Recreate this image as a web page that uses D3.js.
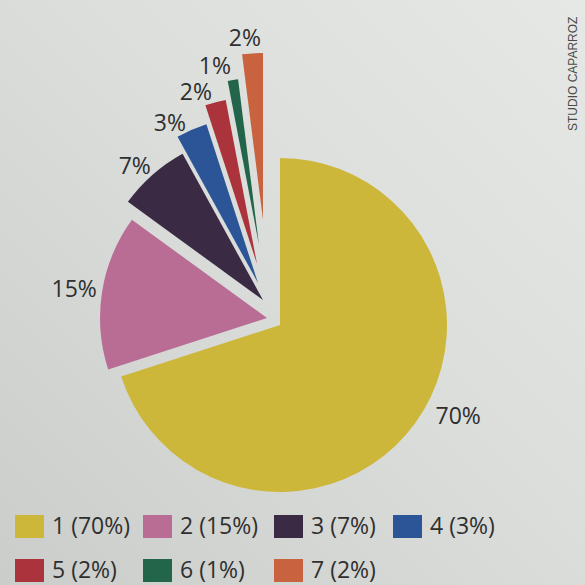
<!DOCTYPE html>
<html>
<head>
<meta charset="utf-8">
<script src="https://cdn.jsdelivr.net/npm/d3@7"></script>
<style>
  html, body { margin: 0; padding: 0; background: #dcdedc; }
  svg { display: block; }
</style>
</head>
<body>
<svg id="chart" width="585" height="585"></svg>
<script>
// ---- data ----
const categories = ["1", "2", "3", "4", "5", "6", "7"];
const values = [70, 15, 7, 3, 2, 1, 2];
const colors = ["#cdb73a", "#b96c94", "#3a2a44", "#2c5597", "#ab333c", "#22654a", "#c9623f"];

// ---- layout (not data) ----
const W = 585, H = 585;
const center = [280, 325];
const radius = 167;
// exploded displacement of each slice [dx, dy]
const sliceShift = [[0, 0], [-13, -7], [-17, -25], [-22, -42], [-23, -61], [-21, -80], [-17, -105]];
// label placement relative to each slice's apex: [angle in degrees clockwise from top, distance]
const labelPolar = [[117, 200], [278.6, 195], [316.4, 186], [331.2, 183], [340.5, 183], [346.2, 185], [354.3, 183]];

const svg = d3.select("#chart");

// background with slight photographic shading
const defs = svg.append("defs");
const grad = defs.append("linearGradient").attr("id", "bg")
  .attr("x1", "0").attr("y1", "1").attr("x2", "1").attr("y2", "0");
grad.append("stop").attr("offset", "0%").attr("stop-color", "#cbcdca");
grad.append("stop").attr("offset", "55%").attr("stop-color", "#dcdedc");
grad.append("stop").attr("offset", "100%").attr("stop-color", "#e6e8e6");
svg.append("rect").attr("width", W).attr("height", H).attr("fill", "url(#bg)");

const pie = d3.pie().sort(null).value(d => d).startAngle(0).endAngle(2 * Math.PI);
const arcs = pie(values);
const arc = d3.arc().innerRadius(0).outerRadius(radius);

const g = svg.append("g").attr("transform", `translate(${center[0]},${center[1]})`);

g.selectAll("path.slice")
  .data(arcs)
  .join("path")
  .attr("class", "slice")
  .attr("transform", (d, i) => `translate(${sliceShift[i][0]},${sliceShift[i][1]})`)
  .attr("d", arc)
  .attr("fill", (d, i) => colors[i]);

const fontFam = "'Open Sans', 'Noto Sans', sans-serif";

g.selectAll("text.lbl")
  .data(arcs)
  .join("text")
  .attr("class", "lbl")
  .attr("x", (d, i) => sliceShift[i][0] + Math.sin(labelPolar[i][0] * Math.PI / 180) * labelPolar[i][1])
  .attr("y", (d, i) => sliceShift[i][1] - Math.cos(labelPolar[i][0] * Math.PI / 180) * labelPolar[i][1])
  .attr("text-anchor", "middle")
  .attr("dy", "0.36em")
  .attr("font-family", fontFam)
  .attr("font-size", 23)
  .attr("fill", "#2f2f2f")
  .text(d => d.data + "%");

// legend
const legendCols = [15, 143, 274, 393];
const legendRows = [526, 570];
const perRow = 4;
const leg = svg.append("g");
categories.forEach((c, i) => {
  const col = i % perRow, row = Math.floor(i / perRow);
  const x = legendCols[col], y = legendRows[row];
  leg.append("rect")
    .attr("x", x).attr("y", y - 11).attr("width", 29).attr("height", 23)
    .attr("fill", colors[i]);
  leg.append("text")
    .attr("x", x + 37).attr("y", y)
    .attr("dy", "0.36em")
    .attr("font-family", fontFam)
    .attr("font-size", 23)
    .attr("fill", "#2f2f2f")
    .text(`${c} (${values[i]}%)`);
});

// credit
svg.append("text")
  .attr("transform", "translate(577,131) rotate(-90)")
  .attr("font-family", "'Liberation Sans Narrow', 'Arial Narrow', 'Liberation Sans', sans-serif")
  .attr("font-size", 12)
  .attr("fill", "#4a4a4a")
  .text("STUDIO CAPARROZ");
</script>
</body>
</html>
